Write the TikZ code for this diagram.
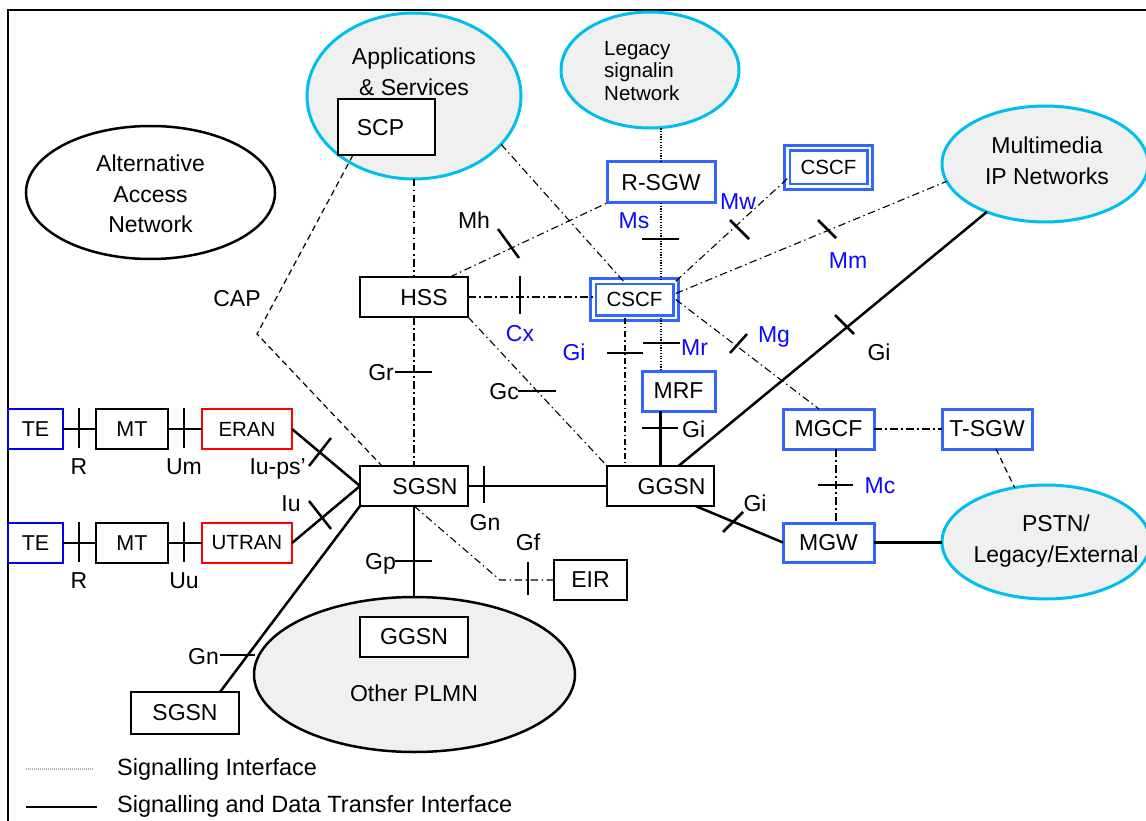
\documentclass[tikz,border=0pt]{standalone}
\usepackage{fontspec}
\setmainfont{Liberation Sans}
\usetikzlibrary{shapes.geometric,calc}
\definecolor{bblue}{RGB}{51,102,255}
\definecolor{teblue}{RGB}{0,0,240}
\definecolor{lblue}{RGB}{10,10,255}
\definecolor{ecyan}{RGB}{0,190,240}
\definecolor{lgray}{RGB}{240,240,240}
\newcommand\fsbig{\fontsize{23}{30.5}\selectfont}
\newcommand\fsleg{\fontsize{23.5}{28}\selectfont}
\newcommand\fsmid{\fontsize{21.5}{26}\selectfont}
\newcommand\fssmall{\fontsize{20.5}{22.3}\selectfont}
\begin{document}
\begin{tikzpicture}[x=1pt,y=-1pt,
  ell/.style={ellipse, inner sep=0pt, outer sep=0pt, line width=2.5pt},
  cyanell/.style={ell, draw=ecyan, fill=lgray, line width=3pt},
  box/.style={rectangle, draw=black, fill=white, line width=2.5pt, inner sep=0pt, outer sep=0pt, font=\fsbig},
  bbox/.style={box, draw=bblue, line width=3pt},
  dbox/.style={box, draw=bblue, line width=2.8pt, double=white, double distance=2.5pt, font=\fssmall},
  data/.style={line width=2.5pt},
  sig/.style={line width=1.1pt, dash pattern=on 7.5pt off 3.5pt on 1.5pt off 3.5pt},
  sigb/.style={line width=1.8pt, dash pattern=on 6pt off 3pt on 1.5pt off 3pt},
  dotl/.style={line width=1.1pt, dash pattern=on 1.2pt off 1.5pt},
  dsh/.style={line width=1.2pt, dash pattern=on 6pt off 4pt},
  tk/.style={line width=2.5pt},
  lab/.style={font=\fsbig, inner sep=0pt, text height=16.5pt, text depth=0pt},
  blab/.style={lab, text=lblue},
  mtxt/.style={font=\fsbig, align=center, inner sep=0pt}
]
\useasboundingbox (0,0) rectangle (1146,821);
\fill[white] (0,0) rectangle (1146,821);
\draw[line width=2pt] (8,840) -- (8,10) -- (1170,10);

% ---- clouds
\node[ell, draw=black, fill=white, minimum width=249pt, minimum height=133pt] (aan) at (150.5,192.5) {};
\node[cyanell, minimum width=214pt, minimum height=166pt] (apps) at (414,96) {};
\node[cyanell, minimum width=178pt, minimum height=116pt] (legacy) at (650,70) {};
\node[cyanell, minimum width=206pt, minimum height=116pt] (mmip) at (1045,164) {};
\node[cyanell, minimum width=208pt, minimum height=114pt] (pstn) at (1046,542) {};
\node[ell, draw=black, fill=lgray, minimum width=321pt, minimum height=155pt] (plmn) at (414.5,674.5) {};

\node[mtxt] (taan) at (150.5,194) {Alternative\\Access\\Network};
\node[mtxt] (tapps) at (414,72) {Applications\\\& Services};
\node[font=\fssmall, align=left, anchor=west, inner sep=0pt] (tleg) at (604,71) {Legacy\\signalin\\Network};
\node[mtxt] (tmm) at (1047,161) {Multimedia\\IP Networks};
\node[mtxt] (tpstn) at (1056,541) {PSTN/\\Legacy/External};
\node[lab] (tplmn) at (414,693) {Other PLMN};

% ---- boxes
\node[box, line width=1.3pt, minimum width=97pt, minimum height=56pt, label={[lab,xshift=-6pt]center:SCP}] (scp) at (386.5,127) {};
\node[box, minimum width=108pt, minimum height=40pt, label={[lab,xshift=10pt]center:HSS}] (hss) at (414,297) {};
\node[box, minimum width=108pt, minimum height=40pt, label={[lab,xshift=11pt]center:SGSN}] (sgsn) at (414,486) {};
\node[box, minimum width=107pt, minimum height=40pt, label={[lab,xshift=11pt]center:GGSN}] (ggsn) at (660.5,486) {};
\node[box, minimum width=73pt, minimum height=40pt] (eir) at (590.5,580) {EIR};
\node[box, minimum width=108pt, minimum height=42pt] (sgsn2) at (185,713) {SGSN};
\node[box, minimum width=108pt, minimum height=40pt] (ggsn2) at (414,637) {GGSN};

\node[bbox, minimum width=108pt, minimum height=41pt] (rsgw) at (661,182.5) {R-SGW};
\node[dbox, minimum width=82.5pt, minimum height=36.5pt] (cscf) at (634.5,299.5) {CSCF};
\node[dbox, minimum width=82.5pt, minimum height=38.5pt] (cscf2) at (828.5,167.5) {CSCF};
\node[bbox, minimum width=73pt, minimum height=40pt] (mrf) at (678.5,391) {MRF};
\node[bbox, minimum width=91pt, minimum height=40pt] (mgcf) at (828.5,429) {MGCF};
\node[bbox, minimum width=90pt, minimum height=40pt] (tsgw) at (987,429) {T-SGW};
\node[bbox, minimum width=91pt, minimum height=39pt] (mgw) at (828.5,542.5) {MGW};

\node[box, draw=teblue, line width=2pt, minimum width=55pt, minimum height=40pt, font=\fsmid] (te1) at (35.5,429) {TE};
\node[box, minimum width=72pt, minimum height=40pt, font=\fsmid] (mt1) at (132,429) {MT};
\node[box, draw=red, line width=2pt, minimum width=90pt, minimum height=40pt, font=\fssmall] (eran) at (247,429) {ERAN};
\node[box, draw=teblue, line width=2pt, minimum width=55pt, minimum height=40pt, font=\fsmid] (te2) at (35.5,543) {TE};
\node[box, minimum width=72pt, minimum height=40pt, font=\fsmid] (mt2) at (132,543) {MT};
\node[box, draw=red, line width=2pt, minimum width=90pt, minimum height=40pt, font=\fssmall] (utran) at (247,543) {UTRAN};

% ---- data connectors
\draw[data] (te1.east) -- (mt1.west);
\draw[data] (mt1.east) -- (eran.west);
\draw[data] (te2.east) -- (mt2.west);
\draw[data] (mt2.east) -- (utran.west);
\draw[data] (eran.east) -- (sgsn.west);
\draw[data] (utran.east) -- (sgsn.west);
\draw[data] (sgsn.south west) -- ([xshift=35pt]sgsn2.north);
\draw[data] (sgsn.east) -- (ggsn.west);
\draw[data] (sgsn.south) -- (sgsn.south |- plmn.north);
\draw[data] (ggsn.north) -- (ggsn.north |- mrf.south);
\draw[data] ([xshift=18pt]ggsn.north) -- (mmip);
\draw[data] ([xshift=35pt]ggsn.south) -- (mgw.west);
\draw[data] (mgw.east) -- (mgw.east -| pstn.west);

% ---- signalling connectors
\coordinate (capc) at (257,334);
\coordinate (eirc) at (500,580);
\draw[dsh] ([xshift=15pt]scp.south west) -- (capc) -- ([xshift=22pt]sgsn.north west);
\draw[sig] (apps.south) -- (hss.north);
\draw[sig] (hss.south) -- (sgsn.north);
\draw[sig] (apps.-29) -- ([xshift=-11pt]cscf.north);
\draw[sig] (hss.east) -- (hss.east -| cscf.west);
\draw[sig] ([xshift=-18pt]hss.north east) -- (rsgw.south west);
\draw[sig] (hss.south east) -- (ggsn.north west);
\draw[dotl] (rsgw.north) -- (rsgw.north |- legacy.south);
\draw[dotl] (rsgw.south) -- (rsgw.south |- cscf.north);
\draw[sig] (cscf.north east) -- ([yshift=8pt]cscf2.south west);
\draw[sig] ([yshift=6pt]cscf.east) -- (mmip.190);
\draw[sig] (cscf.east) -- ([xshift=-9.5pt]mgcf.north);
\draw[sigb] ([xshift=-9.5pt]cscf.south) -- ([xshift=-9.5pt]cscf.south |- ggsn.north);
\draw[dotl] (rsgw.south |- cscf.south) -- (rsgw.south |- mrf.north);
\draw[sig] (mgcf.east) -- (tsgw.west);
\draw[sig] ([xshift=7.5pt]mgcf.south) -- ([xshift=7.5pt]mgcf.south |- mgw.north);
\draw[dsh] ([xshift=9pt]tsgw.south) -- (pstn.120);
\draw[sig] (sgsn.south) -- (eirc) -- (eir.west);

% ---- interface ticks
\draw[tk] (79,408) -- (79,448);   \draw[tk] (184,408) -- (184,448);
\draw[tk] (79,522) -- (79,562);   \draw[tk] (184,522) -- (184,562);
\draw[tk] (309,466) -- (331,438);
\draw[tk] (309,501) -- (331,529);
\draw[tk] (220,655) -- (255,655);
\draw[tk] (484,466) -- (484,503);
\draw[tk] (395,561) -- (432,561);
\draw[tk] (528,562) -- (528,595);
\draw[tk] (395,372) -- (432,372);
\draw[tk] (518,391) -- (556,391);
\draw[tk] (520,276) -- (520,314);
\draw[tk] (498,229) -- (519,258);
\draw[tk] (642,239) -- (679,239);
\draw[tk] (730,220) -- (749,239);
\draw[tk] (818,220) -- (836,238);
\draw[tk] (730,353) -- (747,334);
\draw[tk] (607,353) -- (643,353);
\draw[tk] (643,343) -- (680,343);
\draw[tk] (642,428) -- (678,428);
\draw[tk] (835,315) -- (854,334);
\draw[tk] (723,532) -- (743,512);
\draw[tk] (818,485) -- (853,485);

% ---- interface labels
\node[lab] (lr1) at (79,466) {R};
\node[lab] (lum) at (184,466) {Um};
\node[lab] (lr2) at (79,580) {R};
\node[lab] (luu) at (184,580) {Uu};
\node[lab, anchor=east] (liups) at (306,466) {Iu-ps'};
\node[lab] (liu) at (291,503) {Iu};
\node[lab] (lcap) at (237,298) {CAP};
\node[lab] (lmh) at (474,220) {Mh};
\node[blab] (lms) at (634,220) {Ms};
\node[blab] (lmw) at (738,201) {Mw};
\node[blab] (lmm) at (848,260) {Mm};
\node[blab] (lcx) at (520,333) {Cx};
\node[blab] (lgib) at (574,352) {Gi};
\node[blab, anchor=west] (lmr) at (681,347) {Mr};
\node[blab] (lmg) at (774,334) {Mg};
\node[lab, anchor=west] (lgimrf) at (682,429) {Gi};
\node[lab] (lgimm) at (879,352) {Gi};
\node[lab] (lgimgw) at (755,503) {Gi};
\node[blab] (lmc) at (880,485) {Mc};
\node[lab, anchor=east] (lgr) at (394,372) {Gr};
\node[lab, anchor=east] (lgc) at (519,391) {Gc};
\node[lab] (lgn) at (485,522) {Gn};
\node[lab] (lgf) at (528,542) {Gf};
\node[lab, anchor=east] (lgp) at (396,561) {Gp};
\node[lab, anchor=east] (lgn2) at (219,656) {Gn};

% ---- legend
\coordinate (la1) at (26,769); \coordinate (la2) at (93,769);
\coordinate (lb1) at (26,807); \coordinate (lb2) at (97,807);
\draw[line width=1.5pt, gray!65, dash pattern=on 1pt off 1pt] (la1) -- (la2);
\draw[data] (lb1) -- (lb2);
\node[lab, font=\fsleg, anchor=west] (leg1) at (117,767) {Signalling Interface};
\node[lab, font=\fsleg, anchor=west] (leg2) at (117,804.5) {Signalling and Data Transfer Interface};
\end{tikzpicture}
\end{document}
